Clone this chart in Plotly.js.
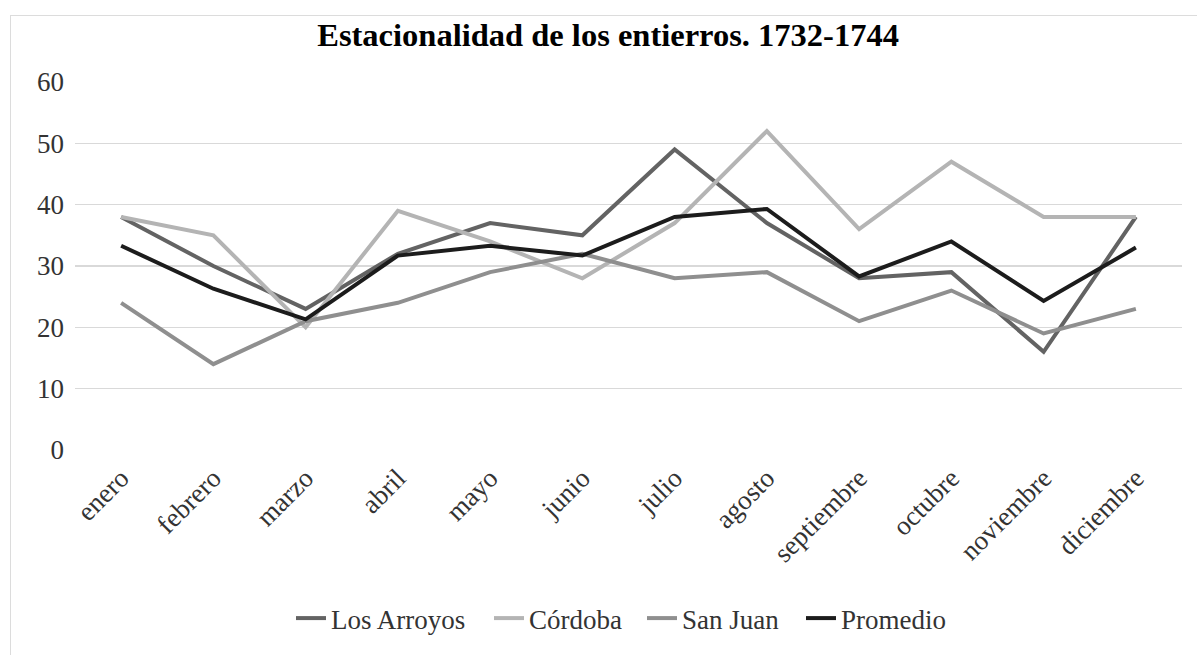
<!DOCTYPE html>
<html>
<head>
<meta charset="utf-8">
<script src="https://cdn.plot.ly/plotly-3.0.1.min.js"></script>
<style>
html,body{margin:0;padding:0;background:#fff;}
#chart{position:absolute;left:0;top:0;width:1197px;height:655px;}
#frame{position:absolute;left:10px;top:15px;width:1200px;height:660px;border:1px solid #dcdcdc;pointer-events:none;box-sizing:border-box;}
</style>
</head>
<body>
<div id="chart"></div>
<div id="frame"></div>
<script>
const months = ["enero","febrero","marzo","abril","mayo","junio","julio","agosto","septiembre","octubre","noviembre","diciembre"];
const losArroyos = [38,30,23,32,37,35,49,37,28,29,16,38];
const cordoba    = [38,35,20,39,34,28,37,52,36,47,38,38];
const sanJuan    = [24,14,21,24,29,32,28,29,21,26,19,23];
const promedio   = [33.3,26.3,21.3,31.7,33.3,31.7,38,39.3,28.3,34,24.3,33];

const seriesNames = ["Los Arroyos","Córdoba","San Juan","Promedio"];
const seriesData = [losArroyos, cordoba, sanJuan, promedio];
const seriesColors = ["#636363","#b4b4b4","#8f8f8f","#1c1c1c"];
const legendWidths = [153, 108, 114, 120];

const traces = seriesData.map((d,i)=>({
  type:"scatter", mode:"lines", x:months, y:d, name:seriesNames[i],
  line:{color:seriesColors[i], width:4}, legendwidth:legendWidths[i]
}));

const serif = "Liberation Serif, Times New Roman, serif";
const txt = "#333333";
const layout = {
  width:1197, height:655,
  margin:{l:75, r:15, t:82, b:202},
  paper_bgcolor:"#fff", plot_bgcolor:"#fff",
  font:{family:serif, color:txt, size:27},
  title:{text:"<b>Estacionalidad de los entierros. 1732-1744</b>", x:0.508, xanchor:"center", y:0.947, yanchor:"middle",
         font:{family:serif, size:32.5, color:"#000"}},
  xaxis:{type:"category", range:[-0.5,11.5], tickangle:-45, showgrid:false, zeroline:false, showline:false,
         ticks:"", tickfont:{family:serif, size:27, color:txt}, ticklabelstandoff:6},
  yaxis:{range:[0,60], dtick:10, showgrid:true, gridcolor:"#d9d9d9", gridwidth:1.5, zeroline:false, showline:false,
         ticks:"", tickfont:{family:serif, size:27, color:txt}, ticklabelstandoff:10},
  showlegend:true,
  legend:{orientation:"h", x:0.5, xanchor:"center", y:-0.458, yanchor:"middle",
          font:{family:serif, size:27, color:txt}, itemwidth:30, tracegroupgap:0},
  hovermode:false
};
Plotly.newPlot("chart", traces, layout, {staticPlot:true});
</script>
</body>
</html>
